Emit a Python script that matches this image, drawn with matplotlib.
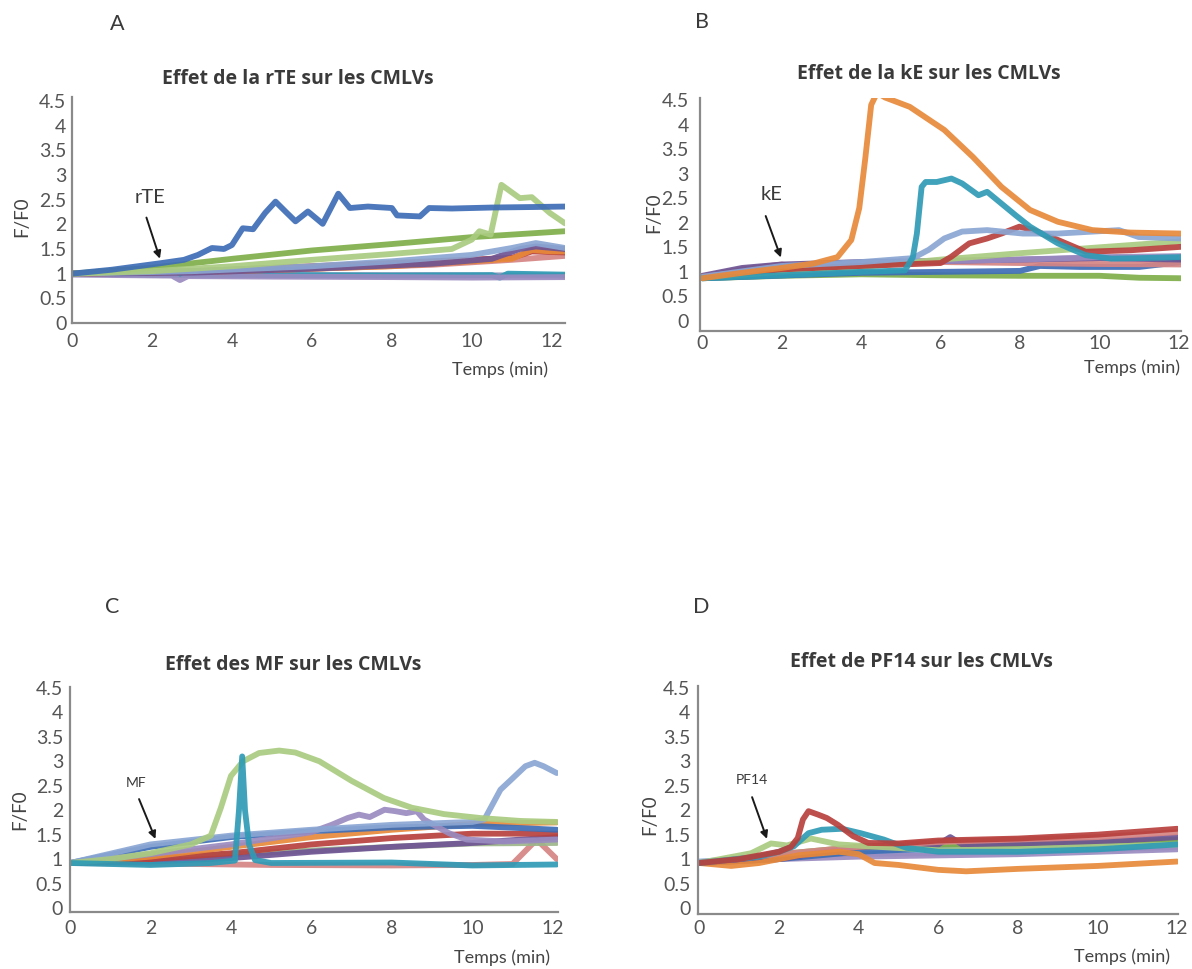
import matplotlib
matplotlib.use("Agg")
import matplotlib.pyplot as plt

# colours (Excel-like palette)
blue = "#3E6DB5"
red = "#B8403D"
green = "#7FAF4A"
lgreen = "#AACB80"
purple = "#6E5494"
lavender = "#9A8BC0"
teal = "#2F9BB5"
orange = "#E8893A"
lblue = "#8AA6D3"
pink = "#D68484"
grayblue = "#7E8FB8"
graygreen = "#9DB58A"

# ---------- panel A : rTE ----------
a_blue_t = [0, 1, 2.2, 2.8, 3.15, 3.5, 3.8, 4.0, 4.27, 4.53, 4.83, 5.09, 5.35, 5.59, 5.9, 6.27, 6.66, 6.95, 7.4, 8.0, 8.13, 8.7, 8.93, 9.5, 10.5, 11.5, 12.33]
a_blue_v = [1.0, 1.08, 1.21, 1.28, 1.38, 1.52, 1.5, 1.58, 1.92, 1.9, 2.23, 2.46, 2.25, 2.06, 2.26, 2.01, 2.62, 2.33, 2.36, 2.33, 2.18, 2.16, 2.33, 2.32, 2.34, 2.35, 2.36]
a_lgreen_t = [0, 2, 4, 6, 8, 9.5, 10.0, 10.19, 10.47, 10.74, 11.2, 11.5, 11.95, 12.33]
a_lgreen_v = [1.0, 1.05, 1.15, 1.28, 1.4, 1.5, 1.69, 1.86, 1.79, 2.8, 2.53, 2.55, 2.23, 2.02]
a_green_t = [0, 2, 4, 6, 8, 10, 12.33]
a_green_v = [1.0, 1.12, 1.3, 1.47, 1.6, 1.74, 1.86]
a_lblue_t = [0, 3, 6, 8, 10, 11, 11.6, 12.33]
a_lblue_v = [1.0, 1.05, 1.15, 1.25, 1.38, 1.52, 1.62, 1.52]
a_purple_t = [0, 3, 6, 9, 10.5, 11.2, 11.6, 12.33]
a_purple_v = [1.0, 1.02, 1.1, 1.2, 1.3, 1.5, 1.55, 1.5]
a_red_t = [0, 3, 6, 9, 11, 11.5, 12.33]
a_red_v = [1.0, 1.05, 1.15, 1.25, 1.32, 1.45, 1.43]
a_pink_t = [0, 3, 6, 9, 11, 12.33]
a_pink_v = [1.0, 1.03, 1.1, 1.18, 1.28, 1.36]
a_orange_t = [0, 4, 8, 11, 11.5, 12, 12.33]
a_orange_v = [1.0, 1.05, 1.15, 1.3, 1.48, 1.45, 1.45]
a_teal_t = [0, 2, 5, 8, 10.5, 10.7, 10.9, 12.33]
a_teal_v = [1.0, 0.98, 0.97, 0.96, 0.97, 0.92, 1.0, 0.98]
a_lav_t = [0, 2.5, 2.7, 2.9, 5, 8, 10, 12.33]
a_lav_v = [0.98, 0.96, 0.87, 0.95, 0.94, 0.93, 0.92, 0.93]
a_gb_t = [0, 3, 6, 9, 12.33]
a_gb_v = [1.0, 0.98, 0.97, 0.97, 0.96]

# ---------- panel B : kE ----------
b_orange_t = [0, 1, 2, 2.8, 3.4, 3.75, 3.95, 4.1, 4.25, 4.4, 4.6, 5.22, 6.09, 6.81, 7.53, 8.25, 8.95, 9.82, 10.78, 12.05]
b_orange_v = [0.87, 0.98, 1.08, 1.17, 1.3, 1.65, 2.3, 3.3, 4.4, 4.65, 4.55, 4.36, 3.89, 3.34, 2.73, 2.26, 2.02, 1.85, 1.8, 1.78]
b_teal_t = [0, 2, 4, 5.1, 5.3, 5.4, 5.52, 5.62, 5.9, 6.27, 6.54, 6.95, 7.17, 7.53, 7.89, 8.25, 8.95, 9.65, 10.29, 11, 12.05]
b_teal_v = [0.87, 0.93, 1.0, 1.03, 1.3, 1.78, 2.73, 2.83, 2.83, 2.9, 2.8, 2.56, 2.63, 2.39, 2.15, 1.92, 1.58, 1.34, 1.27, 1.28, 1.3]
b_lblue_t = [0, 2, 4, 5.3, 5.7, 6.09, 6.54, 7.17, 8.07, 8.95, 10.49, 10.98, 12.05]
b_lblue_v = [0.9, 1.12, 1.2, 1.28, 1.45, 1.68, 1.82, 1.85, 1.78, 1.78, 1.85, 1.71, 1.68]
b_red_t = [0, 2, 4, 6, 6.27, 6.72, 7.17, 7.53, 7.98, 8.33, 8.95, 9.65, 10.78, 12.05]
b_red_v = [0.9, 1.05, 1.12, 1.18, 1.31, 1.58, 1.68, 1.78, 1.92, 1.85, 1.65, 1.41, 1.44, 1.51]
b_lgreen_t = [0, 2, 4, 6, 8, 10, 12.05]
b_lgreen_v = [0.88, 1.0, 1.1, 1.25, 1.38, 1.5, 1.62]
b_green_t = [0, 2, 4, 6, 8, 10, 11, 12.05]
b_green_v = [0.87, 0.92, 0.95, 0.93, 0.92, 0.92, 0.88, 0.87]
b_purple_t = [0, 1, 2, 4, 6, 8, 10, 12.05]
b_purple_v = [0.92, 1.08, 1.15, 1.2, 1.22, 1.25, 1.28, 1.25]
b_pink_t = [0, 1, 2, 2.3, 4, 6, 8, 10, 12.05]
b_pink_v = [0.9, 1.05, 1.15, 1.1, 1.18, 1.2, 1.18, 1.16, 1.15]
b_blue_t = [0, 4, 8, 8.5, 9.5, 11, 12.05]
b_blue_v = [0.87, 0.98, 1.02, 1.12, 1.1, 1.1, 1.2]
b_lav_t = [0, 2, 4, 6, 8, 10, 12.05]
b_lav_v = [0.9, 1.08, 1.18, 1.22, 1.25, 1.3, 1.32]

# ---------- panel C : MF ----------
c_lgreen_t = [0, 1, 2, 3, 3.5, 3.75, 4.0, 4.3, 4.7, 5.2, 5.6, 6.2, 7.0, 7.8, 8.5, 9.3, 10.2, 11.2, 12.1]
c_lgreen_v = [0.92, 1.0, 1.12, 1.3, 1.48, 2.05, 2.7, 3.0, 3.17, 3.22, 3.18, 3.0, 2.6, 2.25, 2.05, 1.92, 1.84, 1.78, 1.76]
c_teal_t = [0, 2, 3.5, 4.1, 4.2, 4.28, 4.35, 4.45, 4.6, 5, 8, 10, 12.1]
c_teal_v = [0.92, 0.88, 0.92, 0.97, 2.0, 3.1, 2.0, 1.3, 0.98, 0.92, 0.93, 0.87, 0.89]
c_lblue_t = [0, 2, 4, 6, 8, 10, 10.3, 10.7, 10.96, 11.32, 11.55, 11.77, 12.1]
c_lblue_v = [0.92, 1.3, 1.48, 1.6, 1.7, 1.76, 1.81, 2.42, 2.62, 2.9, 2.97, 2.9, 2.76]
c_lav_t = [0, 2, 4, 6, 6.5, 6.9, 7.18, 7.45, 7.82, 8.09, 8.36, 8.62, 8.8, 9.42, 9.86, 10.77, 12.1]
c_lav_v = [0.92, 1.1, 1.3, 1.55, 1.7, 1.84, 1.91, 1.86, 2.01, 1.98, 1.94, 1.98, 1.81, 1.53, 1.4, 1.36, 1.4]
c_orange_t = [0, 2, 4, 6, 8, 10, 12.1]
c_orange_v = [0.92, 1.05, 1.25, 1.45, 1.6, 1.72, 1.75]
c_blue_t = [0, 2, 4, 6, 8, 10, 12.1]
c_blue_v = [0.92, 1.25, 1.45, 1.57, 1.65, 1.68, 1.6]
c_red_t = [0, 2, 4, 6, 8, 10, 12.1]
c_red_v = [0.92, 1.0, 1.12, 1.3, 1.43, 1.52, 1.52]
c_purple_t = [0, 2, 4, 6, 8, 10, 12.1]
c_purple_v = [0.92, 0.95, 1.02, 1.15, 1.25, 1.33, 1.45]
c_pink_t = [0, 3, 5, 8, 10, 11, 11.6, 12.1]
c_pink_v = [0.92, 0.9, 0.88, 0.87, 0.88, 0.9, 1.4, 1.0]
c_gg_t = [0, 4, 8, 10, 12.1]
c_gg_v = [0.92, 1.1, 1.25, 1.32, 1.33]

# ---------- panel D : PF14 ----------
d_red_t = [0, 1, 2, 2.3, 2.47, 2.6, 2.74, 2.98, 3.2, 3.48, 3.86, 4.24, 5, 6, 8, 10, 12]
d_red_v = [0.92, 1.0, 1.15, 1.25, 1.43, 1.81, 1.98, 1.91, 1.84, 1.7, 1.47, 1.33, 1.32, 1.38, 1.42, 1.5, 1.62]
d_teal_t = [0, 1.5, 2, 2.37, 2.74, 3.07, 3.58, 4.05, 4.63, 5.2, 6, 8, 10, 12]
d_teal_v = [0.92, 1.05, 1.15, 1.26, 1.53, 1.6, 1.62, 1.53, 1.4, 1.23, 1.15, 1.15, 1.2, 1.3]
d_lgreen_t = [0, 1.3, 1.8, 2.2, 2.8, 3.5, 4.5, 6, 8, 10, 12]
d_lgreen_v = [0.92, 1.12, 1.32, 1.28, 1.42, 1.3, 1.25, 1.18, 1.2, 1.25, 1.3]
d_orange_t = [0, 0.8, 1.5, 2.5, 3.5, 4.0, 4.4, 5, 6, 6.7, 8, 10, 12]
d_orange_v = [0.92, 0.86, 0.92, 1.08, 1.15, 1.1, 0.92, 0.88, 0.78, 0.75, 0.8, 0.86, 0.95]
d_pink_t = [0, 2, 4, 6, 8, 10, 12]
d_pink_v = [0.92, 1.1, 1.25, 1.35, 1.4, 1.45, 1.55]
d_purple_t = [0, 2, 4, 6, 6.3, 6.6, 8, 10, 12]
d_purple_v = [0.92, 1.0, 1.25, 1.3, 1.45, 1.3, 1.32, 1.35, 1.45]
d_green_t = [0, 2, 4, 6, 8, 10, 12]
d_green_v = [0.92, 1.1, 1.25, 1.3, 1.3, 1.35, 1.4]
d_lav_t = [0, 2, 4, 8, 12]
d_lav_v = [0.92, 1.0, 1.05, 1.1, 1.2]
d_blue_t = [0, 2, 4, 6, 8, 10, 12]
d_blue_v = [0.92, 1.0, 1.15, 1.22, 1.28, 1.3, 1.38]
d_lblue_t = [0, 3, 6, 8, 12]
d_lblue_v = [0.95, 1.1, 1.12, 1.15, 1.25]

yticks = [0, 0.5, 1, 1.5, 2, 2.5, 3, 3.5, 4, 4.5]
yticklabels = ["0", "0.5", "1", "1.5", "2", "2.5", "3", "3.5", "4", "4.5"]
xticks = [0, 2, 4, 6, 8, 10, 12]

W, H = 1192, 969
fig = plt.figure(figsize=(W / 100, H / 100), dpi=100)
fig.patch.set_facecolor("white")

TXT = "#3a3a3a"
FONT = ["Lato", "DejaVu Sans"]
LW = 4.2


def make_ax(left, right, bottom, top, xlim, ylim, ypad, xpad):
    ax = fig.add_axes([left / W, 1 - bottom / H, (right - left) / W, (bottom - top) / H])
    ax.set_xlim(xlim)
    ax.set_ylim(ylim)
    for s in ["top", "right"]:
        ax.spines[s].set_visible(False)
    for s in ["left", "bottom"]:
        ax.spines[s].set_color("#8a8a8a")
        ax.spines[s].set_linewidth(1.6)
    ax.set_yticks(yticks)
    ax.set_yticklabels(yticklabels, family=FONT, fontsize=14, color="#555555")
    ax.set_xticks(xticks)
    ax.set_xticklabels([str(x) for x in xticks], family=FONT, fontsize=14, color="#555555")
    ax.tick_params(axis="y", length=0, pad=ypad)
    ax.tick_params(axis="x", length=0, pad=xpad)
    return ax


def draw(ax, series):
    for t, v, c in series:
        ax.plot(t, v, color=c, lw=LW, solid_capstyle="round", solid_joinstyle="round", alpha=0.92)


def mark(ax, label, txt_xy, start, tip, size):
    ax.text(txt_xy[0], txt_xy[1], label, family=FONT, fontsize=size, color=TXT, ha="center", va="center")
    ax.annotate("", xy=tip, xytext=start,
                arrowprops=dict(arrowstyle="-|>", color="#1a1a1a", lw=1.4, mutation_scale=11))


# A
axA = make_ax(72, 565, 323, 97, (0, 12.33), (0, 4.58), 4, 7)
draw(axA, [(a_gb_t, a_gb_v, grayblue), (a_teal_t, a_teal_v, teal), (a_lav_t, a_lav_v, lavender),
           (a_pink_t, a_pink_v, pink), (a_red_t, a_red_v, red), (a_orange_t, a_orange_v, orange),
           (a_purple_t, a_purple_v, purple), (a_lblue_t, a_lblue_v, lblue),
           (a_green_t, a_green_v, green), (a_lgreen_t, a_lgreen_v, lgreen), (a_blue_t, a_blue_v, blue)])
mark(axA, "rTE", (1.95, 2.55), (1.84, 2.19), (2.22, 1.25), 14.5)

# B
axB = make_ax(700, 1181, 331, 98, (-0.06, 12.05), (-0.204, 4.54), 8, 3)
draw(axB, [(b_green_t, b_green_v, green), (b_blue_t, b_blue_v, blue), (b_pink_t, b_pink_v, pink),
           (b_purple_t, b_purple_v, purple), (b_lav_t, b_lav_v, lavender), (b_lgreen_t, b_lgreen_v, lgreen),
           (b_red_t, b_red_v, red), (b_lblue_t, b_lblue_v, lblue), (b_teal_t, b_teal_v, teal),
           (b_orange_t, b_orange_v, orange)])
mark(axB, "kE", (1.73, 2.58), (1.57, 2.19), (2.0, 1.24), 14.5)

# C
axC = make_ax(70, 558, 912, 687, (0, 12.13), (-0.082, 4.52), 5, 6)
draw(axC, [(c_pink_t, c_pink_v, pink), (c_gg_t, c_gg_v, graygreen), (c_purple_t, c_purple_v, purple),
           (c_red_t, c_red_v, red), (c_orange_t, c_orange_v, orange), (c_blue_t, c_blue_v, blue),
           (c_lav_t, c_lav_v, lavender), (c_lblue_t, c_lblue_v, lblue), (c_lgreen_t, c_lgreen_v, lgreen),
           (c_teal_t, c_teal_v, teal)])
mark(axC, "MF", (1.63, 2.56), (1.69, 2.28), (2.15, 1.36), 10)

# D
axD = make_ax(698, 1178, 914, 686, (-0.035, 12.02), (-0.123, 4.54), 5.5, 4.5)
draw(axD, [(d_lblue_t, d_lblue_v, lblue), (d_lav_t, d_lav_v, lavender), (d_blue_t, d_blue_v, blue),
           (d_green_t, d_green_v, green), (d_purple_t, d_purple_v, purple), (d_pink_t, d_pink_v, pink),
           (d_orange_t, d_orange_v, orange), (d_lgreen_t, d_lgreen_v, lgreen), (d_teal_t, d_teal_v, teal),
           (d_red_t, d_red_v, red)])
mark(axD, "PF14", (1.33, 2.62), (1.30, 2.32), (1.72, 1.36), 10)


# titles, letters, axis labels (pixel positions -> figure fraction)
def ftext(x, y, s, **kw):
    fig.text(x / W, 1 - y / H, s, ha="center", va="center", **kw)


titles = ["Effet de la rTE sur les CMLVs", "Effet de la kE sur les CMLVs",
          "Effet des MF sur les CMLVs", "Effet de PF14 sur les CMLVs"]
title_pos = [(298, 79), (929, 74), (293, 665), (921, 662)]
letters = ["A", "B", "C", "D"]
letter_pos = [(117, 24), (702, 22), (112, 607), (701, 607)]
ylabel_pos = [(22, 217), (654, 213), (20, 810), (650, 815)]
xlabel_pos = [(500, 370), (1132, 368), (502, 958), (1122, 957)]

for i in range(4):
    ftext(*title_pos[i], titles[i], family=["Open Sans", "DejaVu Sans"], fontweight="bold", fontsize=14, color="#3a3a3a")
    ftext(*letter_pos[i], letters[i], family=FONT, fontsize=15.5, color=TXT)
    ftext(*ylabel_pos[i], "F/F0", family=FONT, fontsize=13.5, color="#444444", rotation=90)
    ftext(*xlabel_pos[i], "Temps (min)", family=FONT, fontsize=13, color="#444444")

fig.savefig("out.png", dpi=100, facecolor="white")
